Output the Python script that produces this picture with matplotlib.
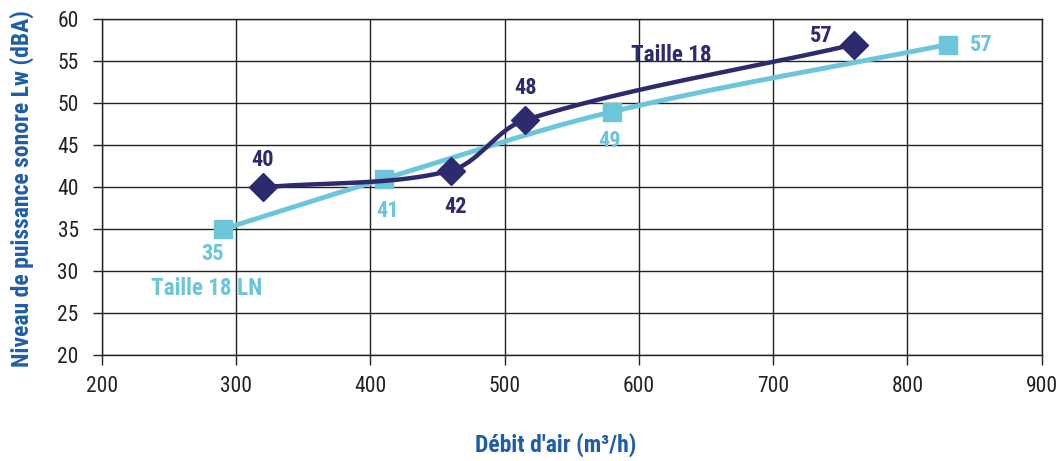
import numpy as np
import matplotlib
matplotlib.use("Agg")
import matplotlib.pyplot as plt

plt.rcParams['font.family'] = ['Roboto Condensed', 'DejaVu Sans']
plt.rcParams['font.stretch'] = 'condensed'

# Sound power level vs air flow
x_t18 = [320, 460, 515, 760]
y_t18 = [40, 42, 48, 57]
x_t18ln = [290, 410, 580, 830]
y_t18ln = [35, 41, 49, 57]

x_ticks = [200, 300, 400, 500, 600, 700, 800, 900]
y_ticks = [20, 25, 30, 35, 40, 45, 50, 55, 60]

DARK = '#2D2A6E'
LIGHT = '#6CC5D9'
LABEL_BLUE = '#1F5DA8'

# display scale (pixels per data unit) used so the smoothing follows screen distances
SX, SY = 941.0 / 700.0, 336.0 / 40.0


def smooth(xs, ys, n=60):
    """Bezier smoothing with control arms weighted by neighbouring segment lengths."""
    p = np.column_stack([np.asarray(xs, float) * SX, np.asarray(ys, float) * SY])
    m = len(p)
    d = np.linalg.norm(np.diff(p, axis=0), axis=1)
    out = []
    for i in range(m - 1):
        p1, p2 = p[i], p[i + 1]
        if i > 0:
            c1 = p1 + (p2 - p[i - 1]) * d[i] / (d[i - 1] + d[i]) / 3.0
        else:
            c1 = p1 + (p2 - p1) / 3.0
        if i + 2 < m:
            c2 = p2 - (p[i + 2] - p1) * d[i] / (d[i] + d[i + 1]) / 3.0
        else:
            c2 = p2 - (p2 - p1) / 3.0
        t = np.linspace(0, 1, n)[:, None]
        seg = ((1 - t) ** 3) * p1 + 3 * ((1 - t) ** 2) * t * c1 \
            + 3 * (1 - t) * t ** 2 * c2 + t ** 3 * p2
        out.append(seg if i == 0 else seg[1:])
    s = np.vstack(out)
    return s[:, 0] / SX, s[:, 1] / SY


fig = plt.figure(figsize=(10.59, 4.61), dpi=100)
ax = fig.add_axes([0.096, 0.2293, 0.8877, 0.7287])

ax.set_xlim(200, 900)
ax.set_ylim(20, 60)
ax.set_xticks(x_ticks)
ax.set_yticks(y_ticks)
ax.grid(True, color='#222222', linewidth=1.0)
ax.set_axisbelow(True)
for s in ax.spines.values():
    s.set_color('#222222')
    s.set_linewidth(1.0)
ax.tick_params(axis='both', colors='#222222', labelsize=15.5, width=1.0,
               labelcolor='#222222')
ax.tick_params(axis='x', length=7, pad=8)
ax.tick_params(axis='y', length=6.5, pad=10)

sx, sy = smooth(x_t18ln, y_t18ln)
ax.plot(sx, sy, color=LIGHT, linewidth=3.5, solid_capstyle='butt', zorder=3)
ax.plot(x_t18ln, y_t18ln, linestyle='none', marker='s', markersize=13,
        color=LIGHT, zorder=4)

sx, sy = smooth(x_t18, y_t18)
ax.plot(sx, sy, color=DARK, linewidth=3.2, solid_capstyle='butt', zorder=5)
ax.plot(x_t18, y_t18, linestyle='none', marker='D', markersize=14,
        color=DARK, zorder=6)

# value labels (offsets in pixels)
lab_kw = dict(fontsize=16, fontweight='bold', ha='center', va='center')
t18_off = [(0, 27), (5, -36), (1, 32), (-32, 9)]
for xv, yv, (dx, dy) in zip(x_t18, y_t18, t18_off):
    ax.annotate(str(yv), (xv, yv), xytext=(dx, dy), textcoords='offset pixels',
                color=DARK, **lab_kw)
t18ln_off = [(-10, -25), (4, -32), (-2, -29), (34, 0)]
for xv, yv, (dx, dy) in zip(x_t18ln, y_t18ln, t18ln_off):
    ax.annotate(str(yv), (xv, yv), xytext=(dx, dy), textcoords='offset pixels',
                color=LIGHT, **lab_kw)

ax.text(624.5, 55.75, 'Taille 18', color=DARK, fontsize=16.7, fontweight='bold',
        ha='center', va='center', zorder=7)
ax.text(278, 27.9, 'Taille 18 LN', color=LIGHT, fontsize=16.7, fontweight='bold',
        ha='center', va='center', zorder=7)

fig.text(0.5245, 0.035, "Débit d'air (m³/h)", color=LABEL_BLUE, fontsize=17,
         fontweight='bold', ha='center', va='center')
fig.text(0.0208, 0.59, 'Niveau de puissance sonore Lw (dBA)', color=LABEL_BLUE,
         fontsize=17, fontweight='bold', ha='center', va='center', rotation=90)

fig.savefig('out.png', dpi=100)
